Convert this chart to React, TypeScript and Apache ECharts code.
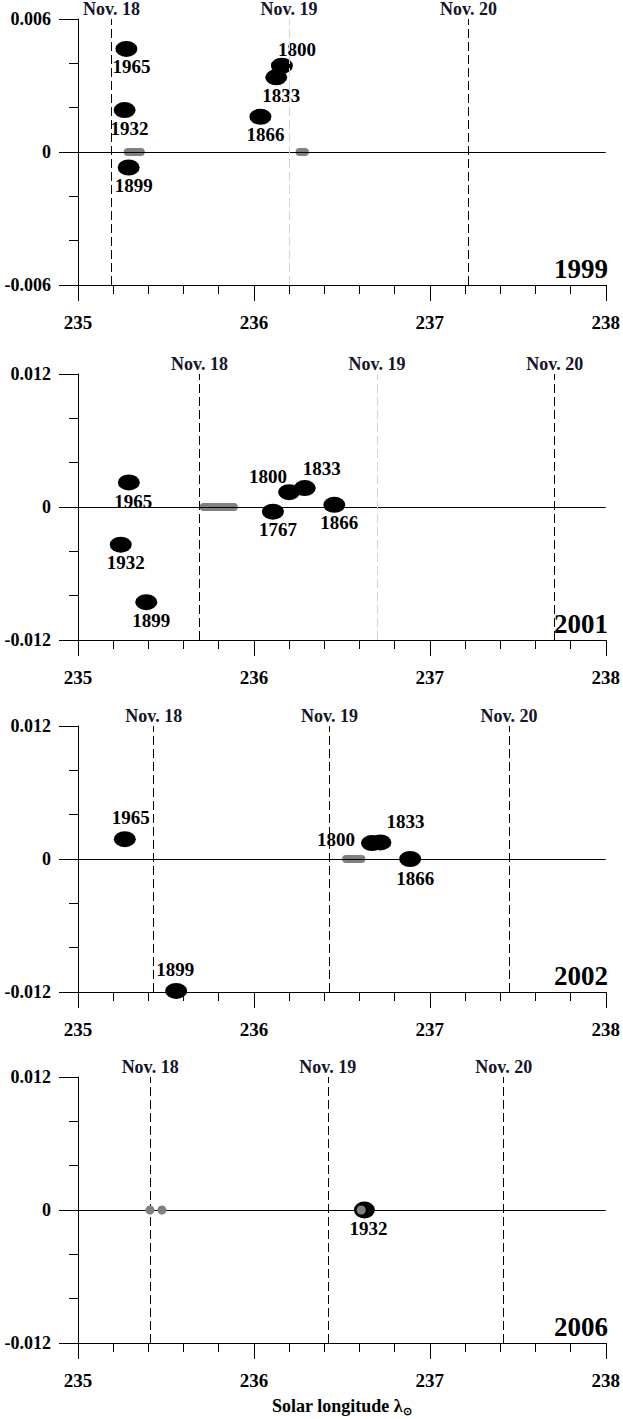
import React, { useEffect, useRef } from 'react';
import * as echarts from 'echarts';

// ---------------- data ----------------
const X_MIN = 235;
const X_MAX = 238;
const panelYears = ['1999', '2001', '2002', '2006'];
const yLimits = [0.006, 0.012, 0.012, 0.012];
const dayLabels = ['Nov. 18', 'Nov. 19', 'Nov. 20'];

// solar longitude of 0h UT for each day, per year
const dayLon1999 = [235.195, 236.2, 237.215];
const dayLon2001 = [235.687, 236.696, 237.709];
const dayLon2002 = [235.426, 236.432, 237.449];
const dayLon2006 = [235.405, 236.418, 237.42];

// dust trails: [solar longitude, distance (AU), ejection year]
const trails1999: [number, number, string][] = [
  [235.275, 0.00465, '1965'],
  [235.265, 0.00189, '1932'],
  [235.288, -0.0007, '1899'],
  [236.037, 0.00159, '1866'],
  [236.127, 0.00337, '1833'],
  [236.159, 0.00389, '1800'],
];
const trails2001: [number, number, string][] = [
  [235.289, 0.00222, '1965'],
  [235.243, -0.0034, '1932'],
  [235.388, -0.00859, '1899'],
  [236.108, -0.00042, '1767'],
  [236.2, 0.00134, '1800'],
  [236.289, 0.00171, '1833'],
  [236.457, 0.0002, '1866'],
];
const trails2002: [number, number, string][] = [
  [235.266, 0.00179, '1965'],
  [235.558, -0.0119, '1899'],
  [236.671, 0.00144, '1800'],
  [236.719, 0.0015, '1833'],
  [236.888, 0.0, '1866'],
];
const trails2006: [number, number, string][] = [[236.628, 0.0, '1932']];

// observed activity intervals (grey), [start, end] solar longitude
const obs1999 = [
  [235.283, 235.357],
  [236.26, 236.29],
];
const obs2001 = [[235.714, 235.886]];
const obs2002 = [[236.524, 236.611]];
// observed single peaks (grey dots)
const obsPeaks2006 = [235.409, 235.477, 236.61];

// ---------------- styling / layout ----------------
const FONT = '"Liberation Serif", "Times New Roman", serif';
const GRID_LEFT = 78;
const GRID_RIGHT = 15; // 623 - 608
const GRID_TOPS = [19, 374, 726, 1077];
const GRID_H = 266;
const NOV_LINE_COLORS = [
  ['#000', '#d4d4d4', '#000'],
  ['#000', '#d4d4d4', '#000'],
  ['#000', '#000', '#000'],
  ['#000', '#000', '#000'],
];
const BELOW: [number, number] = [5, 18];
const LABEL_OFFSETS: Record<string, [number, number]>[] = [
  { '1965': BELOW, '1932': BELOW, '1899': BELOW, '1866': BELOW, '1833': BELOW, '1800': [15, -16] },
  { '1965': [4.5, 19], '1932': BELOW, '1899': BELOW, '1767': BELOW, '1800': [-21, -16], '1833': [17, -20], '1866': BELOW },
  { '1965': [6, -22], '1899': [-1, -21], '1800': [-36, -4], '1833': [25, -21], '1866': [5, 19] },
  { '1932': [4, 18] },
];
const ELLIPSE = 'path://M0,10a10,10 0 1,0 20,0a10,10 0 1,0 -20,0z';

const dayLons = [dayLon1999, dayLon2001, dayLon2002, dayLon2006];
const trails = [trails1999, trails2001, trails2002, trails2006];
const obsBars = [obs1999, obs2001, obs2002, [] as number[][]];

function buildOption() {
  const grid: any[] = [];
  const xAxis: any[] = [];
  const yAxis: any[] = [];
  const series: any[] = [];
  const graphic: any[] = [];

  panelYears.forEach((yr, i) => {
    grid.push({ left: GRID_LEFT, right: GRID_RIGHT, top: GRID_TOPS[i], height: GRID_H, containLabel: false });
    const lim = yLimits[i];
    xAxis.push({
      type: 'value',
      gridIndex: i,
      min: X_MIN,
      max: X_MAX,
      interval: 1,
      axisLine: { show: true, onZero: false, lineStyle: { color: '#000', width: 1 } },
      axisTick: { show: true, length: 16, lineStyle: { color: '#000', width: 1 } },
      minorTick: { show: true, splitNumber: 5, length: 9, lineStyle: { color: '#000', width: 1 } },
      splitLine: { show: false },
      axisLabel: { margin: 28, color: '#000', fontFamily: FONT, fontWeight: 'bold', fontSize: 19 },
      ...(i === 3
        ? {
            name: 'Solar longitude λ{s|⊙}',
            nameLocation: 'middle',
            nameGap: 52,
            nameTextStyle: {
              color: '#000',
              fontFamily: FONT,
              fontWeight: 'bold',
              fontSize: 18,
              rich: { s: { fontFamily: FONT, fontSize: 11, fontWeight: 'bold', color: '#000', padding: [10, 0, 0, 0] } },
            },
          }
        : {}),
    });
    yAxis.push({
      type: 'value',
      gridIndex: i,
      min: -lim,
      max: lim,
      interval: lim,
      axisLine: { show: true, onZero: false, lineStyle: { color: '#000', width: 1 } },
      axisTick: { show: true, length: 19, lineStyle: { color: '#000', width: 1 } },
      minorTick: { show: true, splitNumber: 3, length: 9, lineStyle: { color: '#000', width: 1 } },
      splitLine: { show: false },
      axisLabel: {
        margin: 27,
        color: '#000',
        fontFamily: FONT,
        fontWeight: 'bold',
        fontSize: 18,
        formatter: (v: number) => (Math.abs(v) < 1e-9 ? '0' : String(+v.toFixed(3))),
      },
    });

    // guides: zero line + day lines
    series.push({
      type: 'line',
      xAxisIndex: i,
      yAxisIndex: i,
      data: [],
      silent: true,
      z: 1,
      markLine: {
        silent: true,
        symbol: 'none',
        animation: false,
        data: [
          { yAxis: 0, lineStyle: { color: '#000', width: 1, type: 'solid' }, label: { show: false } },
          ...dayLons[i].map((lon, k) => ({
            xAxis: lon,
            lineStyle: { color: NOV_LINE_COLORS[i][k], width: 1, type: [9, 4] },
            label: {
              show: true,
              position: 'end',
              distance: 1,
              formatter: dayLabels[k],
              color: '#14142a',
              fontFamily: FONT,
              fontWeight: 'bold',
              fontSize: 18,
            },
          })),
        ],
      },
    });

    // observed intervals
    obsBars[i].forEach((b) => {
      series.push({
        type: 'line',
        xAxisIndex: i,
        yAxisIndex: i,
        data: [
          [b[0], 0],
          [b[1], 0],
        ],
        showSymbol: false,
        symbol: 'none',
        silent: true,
        z: 3,
        lineStyle: { color: '#808080', width: 8, cap: 'round', opacity: 1 },
      });
    });

    // dust trails
    series.push({
      type: 'scatter',
      xAxisIndex: i,
      yAxisIndex: i,
      z: 4,
      symbol: ELLIPSE,
      symbolSize: i === 3 ? [21, 17] : [22, 16],
      itemStyle: { color: '#000', opacity: 1 },
      emphasis: { disabled: true },
      data: trails[i].map((t) => ({
        value: [t[0], t[1]],
        label: {
          show: true,
          position: 'inside',
          offset: LABEL_OFFSETS[i][t[2]] || BELOW,
          formatter: t[2],
          color: '#000',
          opacity: 1,
          fontFamily: FONT,
          fontWeight: 'bold',
          fontSize: 19,
        },
      })),
    });

    if (i === 3) {
      series.push({
        type: 'scatter',
        xAxisIndex: i,
        yAxisIndex: i,
        z: 5,
        symbol: 'circle',
        symbolSize: 9,
        itemStyle: { color: '#808080', opacity: 1 },
        data: obsPeaks2006.map((x) => [x, 0]),
      });
    }

    graphic.push({
      type: 'text',
      x: 623 - GRID_RIGHT,
      y: GRID_TOPS[i] + GRID_H - 3,
      z: 10,
      style: {
        text: yr,
        textAlign: 'right',
        textVerticalAlign: 'bottom',
        fill: '#000',
        font: `bold 27px ${FONT}`,
      },
    });
  });

  return { animation: false, backgroundColor: '#fff', grid, xAxis, yAxis, series, graphic };
}

export default function App() {
  const ref = useRef<HTMLDivElement>(null);
  useEffect(() => {
    if (!ref.current) return;
    const chart = echarts.init(ref.current, undefined, { renderer: 'svg' });
    chart.setOption(buildOption() as any);
    return () => chart.dispose();
  }, []);
  return (
    <div
      ref={ref}
      style={{ position: 'absolute', left: 0, top: 0, width: 623, height: 1419, background: '#fff' }}
    />
  );
}
